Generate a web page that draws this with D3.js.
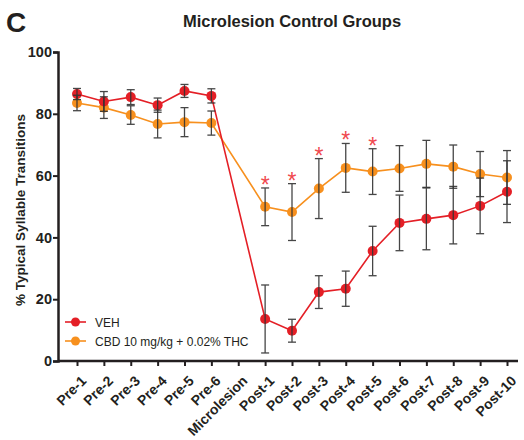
<!DOCTYPE html>
<html>
<head>
<meta charset="utf-8">
<script src="https://cdn.jsdelivr.net/npm/d3@7"></script>
<style>
  body { margin: 0; background: #fff; font-family: "Liberation Sans", Arial, sans-serif; }
  .axis path, .axis line { stroke: #231f20; }
  .axis text { font-weight: bold; fill: #231f20; }
</style>
</head>
<body>
<div id="chart"></div>
<script>
/*Datos*/
const categories = ['Pre-1','Pre-2','Pre-3','Pre-4','Pre-5','Pre-6','Microlesion',
  'Post-1','Post-2','Post-3','Post-4','Post-5','Post-6','Post-7','Post-8','Post-9','Post-10'];
const vehMean = [86.4, 84, 85.4, 82.8, 87.4, 85.8, null,
  13.6, 9.8, 22.3, 23.4, 35.6, 44.7, 46, 47.2, 50.2, 54.8];
const vehErr = [1.8, 3.2, 2.4, 2.3, 2.1, 2.3, null,
  11, 3.7, 5.3, 5.7, 8, 9, 10, 9.3, 9, 10];
const cbdMean = [83.5, 82, 79.6, 76.7, 77.3, 77, null,
  49.9, 48.2, 55.8, 62.5, 61.3, 62.3, 63.8, 62.9, 60.5, 59.4];
const cbdErr = [2.5, 3.5, 3, 4.5, 4.7, 3.9, null,
  6.1, 9.2, 9.7, 7.9, 7.4, 7.4, 7.6, 7, 7.3, 8.7];
const starCats = ['Post-1','Post-2','Post-3','Post-4','Post-5'];
const yTicks = [0, 20, 40, 60, 80, 100];
const seriesNames = ['VEH', 'CBD 10 mg/kg + 0.02% THC'];

const w = 524, h = 440;
const red = '#e41f26', orange = '#f7901e';

const svg = d3.select('#chart').append('svg')
  .attr('width', w).attr('height', h);

/*Escalas*/
const x = d3.scalePoint().domain(categories).range([77, 507]);
const y = d3.scaleLinear().domain([0, 100]).range([361, 52]);

/*Letra y título*/
svg.append('text').attr('x', 6).attr('y', 32)
  .style('font-size', '28px').style('font-weight', 'bold').attr('fill', '#231f20').text('C');
svg.append('text').attr('x', 292).attr('y', 27).attr('text-anchor', 'middle')
  .style('font-size', '16.5px').style('font-weight', 'bold').attr('fill', '#231f20')
  .text('Microlesion Control Groups');

/*Ejes*/
svg.append('g').attr('class', 'axis')
  .attr('transform', 'translate(58,0)')
  .call(d3.axisLeft(y).tickValues(yTicks).tickSize(5).tickPadding(1))
  .call(g => g.select('.domain').attr('stroke-width', 2.5))
  .call(g => g.selectAll('line').attr('stroke-width', 2))
  .call(g => g.selectAll('text').style('font-size', '14.5px'));

svg.append('g').attr('class', 'axis')
  .attr('transform', 'translate(0,361)')
  .call(d3.axisBottom(x).tickSize(5).tickSizeOuter(0))
  .call(g => g.select('.domain').attr('d', 'M58,0H518').attr('stroke-width', 2.5))
  .call(g => g.selectAll('line').attr('stroke-width', 2))
  .call(g => g.selectAll('text')
    .style('font-size', '14px')
    .attr('text-anchor', 'end')
    .attr('dy', null)
    .attr('transform', 'translate(4,15) rotate(-45)'));

svg.append('text')
  .attr('transform', 'translate(25,210) rotate(-90)')
  .attr('text-anchor', 'middle')
  .style('font-size', '13.5px').style('font-weight', 'bold').attr('fill', '#231f20')
  .text('% Typical Syllable Transitions');

/*Series*/
const build = (mean, err) => categories.map((c, i) => ({ c, m: mean[i], e: err[i] }))
  .filter(d => d.m !== null);
const series = [
  { data: build(vehMean, vehErr), color: red },
  { data: build(cbdMean, cbdErr), color: orange }
];

const line = d3.line().x(d => x(d.c)).y(d => y(d.m));

series.slice().reverse().forEach(s => {
  svg.append('path').datum(s.data)
    .attr('fill', 'none').attr('stroke', s.color).attr('stroke-width', 1.6)
    .attr('d', line);
});
series.slice().reverse().forEach(s => {
  svg.selectAll(null).data(s.data).enter().append('circle')
    .attr('cx', d => x(d.c)).attr('cy', d => y(d.m)).attr('r', 5)
    .attr('fill', s.color);
});

/*Barras de error*/
series.forEach(s => {
  const g = svg.append('g').attr('stroke', '#333').attr('stroke-width', 1.3).attr('opacity', 0.9);
  s.data.forEach(d => {
    const cx = x(d.c);
    g.append('line').attr('x1', cx).attr('x2', cx).attr('y1', y(d.m + d.e)).attr('y2', y(d.m - d.e));
    g.append('line').attr('x1', cx - 4).attr('x2', cx + 4).attr('y1', y(d.m + d.e)).attr('y2', y(d.m + d.e));
    g.append('line').attr('x1', cx - 4).attr('x2', cx + 4).attr('y1', y(d.m - d.e)).attr('y2', y(d.m - d.e));
  });
});

/*Asteriscos*/
svg.selectAll('.star').data(starCats).enter().append('text')
  .attr('class', 'star')
  .attr('x', d => x(d))
  .attr('y', d => { const i = categories.indexOf(d); return y(cbdMean[i] + cbdErr[i]) + 5; })
  .attr('text-anchor', 'middle')
  .style('font-size', '23px').attr('fill', '#f04a4f')
  .text('*');

/*Leyenda*/
const legend = svg.append('g');
[red, orange].forEach((c, i) => {
  const ly = 322 + i * 19;
  legend.append('line').attr('x1', 65).attr('x2', 86).attr('y1', ly).attr('y2', ly)
    .attr('stroke', c).attr('stroke-width', 1.6);
  legend.append('circle').attr('cx', 75.5).attr('cy', ly).attr('r', 4.5).attr('fill', c);
  legend.append('text').attr('x', 95).attr('y', ly + 4.5)
    .style('font-size', '12px').attr('fill', '#231f20').text(seriesNames[i]);
});
</script>
</body>
</html>
